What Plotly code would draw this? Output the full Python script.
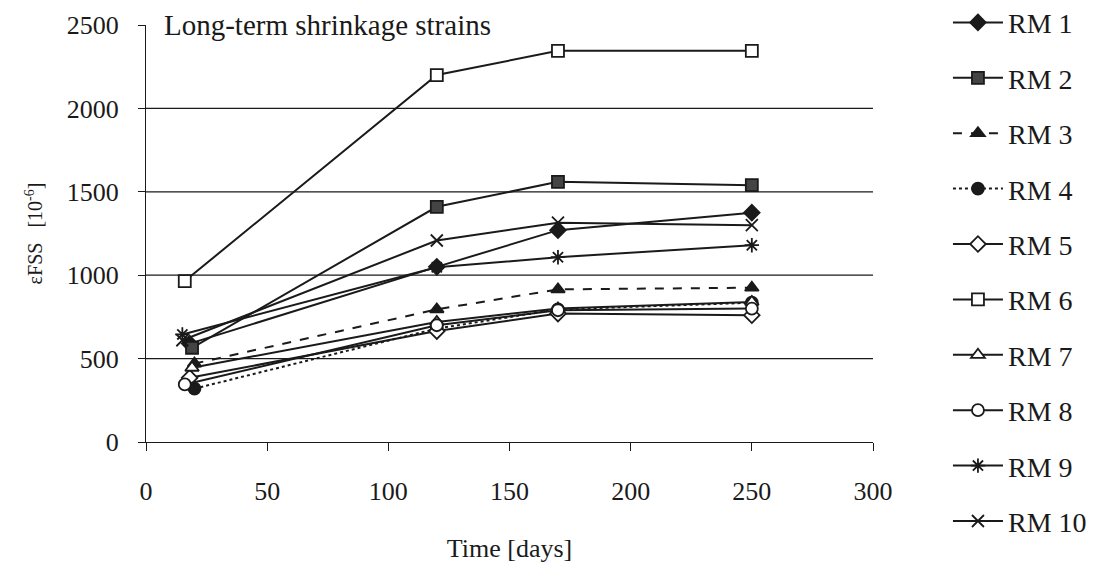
import plotly.graph_objects as go

# Measurement ages [days] and long-term shrinkage strains [1e-6] per mix
t_rm1 = [18, 120, 170, 250]
e_rm1 = [590, 1050, 1270, 1375]
t_rm2 = [19, 120, 170, 250]
e_rm2 = [565, 1410, 1560, 1540]
t_rm3 = [20, 120, 170, 250]
e_rm3 = [470, 795, 915, 925]
t_rm4 = [20, 120, 170, 250]
e_rm4 = [320, 680, 795, 835]
t_rm5 = [18, 120, 170, 250]
e_rm5 = [385, 665, 770, 760]
t_rm6 = [16, 120, 170, 250]
e_rm6 = [965, 2200, 2345, 2345]
t_rm7 = [19, 120, 170, 250]
e_rm7 = [445, 720, 800, 840]
t_rm8 = [16, 120, 170, 250]
e_rm8 = [345, 700, 790, 800]
t_rm9 = [15, 120, 170, 250]
e_rm9 = [645, 1047, 1108, 1180]
t_rm10 = [15, 120, 170, 250]
e_rm10 = [610, 1208, 1315, 1300]

series_names = ["RM 1", "RM 2", "RM 3", "RM 4", "RM 5",
                "RM 6", "RM 7", "RM 8", "RM 9", "RM 10"]
grid_levels = [500, 1000, 1500, 2000]
x_ticks = [0, 50, 100, 150, 200, 250, 300]
y_ticks = [0, 500, 1000, 1500, 2000, 2500]

FONT = "Liberation Serif, Times New Roman, serif"
INK = "#1a1a1a"

# (times, strains, symbol, fill, dash)
styles = [
    (t_rm1, e_rm1, "diamond", INK, "solid"),
    (t_rm2, e_rm2, "square", "#444444", "solid"),
    (t_rm3, e_rm3, "triangle-up", INK, "dash"),
    (t_rm4, e_rm4, "circle", INK, "dot"),
    (t_rm5, e_rm5, "diamond", "white", "solid"),
    (t_rm6, e_rm6, "square", "white", "solid"),
    (t_rm7, e_rm7, "triangle-up", "white", "solid"),
    (t_rm8, e_rm8, "circle", "white", "solid"),
    (t_rm9, e_rm9, "asterisk-open", INK, "solid"),
    (t_rm10, e_rm10, "x-thin-open", INK, "solid"),
]

fig = go.Figure()

for lvl in grid_levels:
    fig.add_hline(y=lvl, line=dict(color=INK, width=1.2), layer="below")

for name, (t, e, sym, fill, dash) in zip(series_names, styles):
    fig.add_trace(go.Scatter(
        x=t, y=e, name=name, mode="lines+markers",
        legendgroup=name,
        line=dict(color=INK, width=2, dash=dash),
        marker=dict(symbol=sym, size=12, color=fill,
                    line=dict(color=INK, width=1.8)),
    ))

fig.add_annotation(
    x=0, y=1.0, xref="paper", yref="paper", xanchor="left", yanchor="middle",
    xshift=16, text="Long-term shrinkage strains", showarrow=False,
    font=dict(family=FONT, size=29, color=INK),
)

fig.update_layout(
    width=1094, height=572,
    margin=dict(l=146, r=221, t=25, b=130),
    paper_bgcolor="white", plot_bgcolor="white",
    font=dict(family=FONT, color=INK, size=26),
    showlegend=True,
    legend=dict(
        xref="container", yref="container",
        x=0.8665, y=0.525, xanchor="left", yanchor="middle",
        font=dict(family=FONT, size=28, color=INK),
        tracegroupgap=16, itemwidth=50, bgcolor="rgba(0,0,0,0)",
        maxheight=1.0,
    ),
    xaxis=dict(
        range=[0, 300], tickvals=x_ticks, showgrid=False, zeroline=False,
        showline=True, linecolor=INK, linewidth=1.2,
        ticks="outside", ticklen=8, tickcolor=INK, tickwidth=1.2,
        ticklabelstandoff=18,
        tickfont=dict(family=FONT, size=26, color=INK),
        title=dict(text="Time [days]", font=dict(family=FONT, size=26, color=INK),
                   standoff=33),
    ),
    yaxis=dict(
        range=[0, 2500], tickvals=y_ticks, showgrid=False, zeroline=False,
        showline=True, linecolor=INK, linewidth=1.2,
        ticks="outside", ticklen=7, tickcolor=INK, tickwidth=1.2,
        ticklabelstandoff=14,
        tickfont=dict(family=FONT, size=26, color=INK),
        title=dict(text="εFSS&nbsp;&nbsp;&nbsp;[10<sup>-6</sup>]",
                   font=dict(family=FONT, size=20, color=INK), standoff=18),
    ),
)

fig.write_html("out.html")
